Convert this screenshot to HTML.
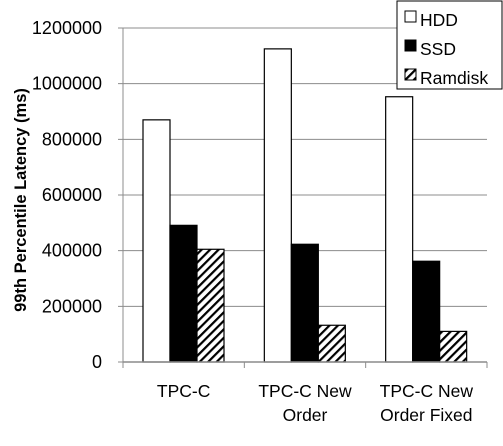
<!DOCTYPE html>
<html><head><meta charset="utf-8"><style>
body{margin:0;background:#fff;}
svg text{font-family:"Liberation Sans",sans-serif;}
</style></head><body>
<svg id="chart" width="503" height="441">
<defs><pattern id="hatch" patternUnits="userSpaceOnUse" width="6" height="6" patternTransform="rotate(45)">
<rect width="6" height="6" fill="#fff"/><rect width="2.2" height="6" fill="#000"/></pattern></defs>
<g id="grid"></g><g id="bars"></g><g id="axes"></g>
<text transform="translate(26,200) rotate(-90)" text-anchor="middle" font-size="16.5" font-weight="bold">99th Percentile Latency (ms)</text>
<g>
<rect x="397" y="1" width="105" height="88" fill="#fff" stroke="#000" stroke-width="1"/>
<g><rect x="405" y="11" width="11" height="11" fill="#fff" stroke="#000"/><text x="420" y="26" font-size="17.5">HDD</text></g>
<g><rect x="405" y="40" width="11" height="11" fill="#000" stroke="#000"/><text x="420" y="55" font-size="17.5">SSD</text></g>
<g><rect x="405" y="69" width="11" height="11" fill="url(#hatch)" stroke="#000"/><text x="420" y="84" font-size="17.5">Ramdisk</text></g>
</g>
</svg>
<script>
const categories=[["TPC-C"],["TPC-C New","Order"],["TPC-C New","Order Fixed"]];
const hdd=[870000,1125000,953000];
const ssd=[491000,423000,362000];
const ramdisk=[405000,132000,110000];
const yTicks=[0,200000,400000,600000,800000,1000000,1200000];
const NS="http://www.w3.org/2000/svg";
const L=123,R=487,B=362,T=28,MAX=1200000;
const y=v=>B-(v/MAX)*(B-T);
const gw=(R-L)/categories.length;
const x=i=>L+i*gw;
function mk(tag,attrs,parent){const e=document.createElementNS(NS,tag);for(const k in attrs)e.setAttribute(k,attrs[k]);document.getElementById(parent).appendChild(e);return e;}
yTicks.forEach(v=>{
 const ln=mk('line',{x1:L-5,x2:R,y1:y(v),y2:y(v),stroke:'#8c8c8c','stroke-width':1},'grid');
 
 
 const t=mk('text',{x:102,y:y(v)+6,'text-anchor':'end','font-size':18},'axes');
 t.textContent=v;
 
 
});
const series=[[hdd,'#fff','hdd'],[ssd,'#000','ssd'],[ramdisk,'url(#hatch)','ramdisk']];
const bw=27;
categories.forEach((c,i)=>{
 series.forEach((s,j)=>{
  const v=s[0][i];
  const r=mk('rect',{x:x(i)+20+j*bw,y:y(v),width:bw,height:B-y(v),fill:s[1],stroke:'#000','stroke-width':1.2},'bars');
  
  
 });
 c.forEach((line,k)=>{
  const t=mk('text',{x:x(i)+gw/2,y:397+k*24,'text-anchor':'middle','font-size':17.5},'axes');
  t.textContent=line;
  
  
 });
});
const ax=mk('line',{x1:L,x2:L,y1:T,y2:B,stroke:'#8c8c8c'},'axes');


const bx=mk('line',{x1:L,x2:R,y1:B,y2:B,stroke:'#8c8c8c','stroke-width':1.5},'axes');


for(let i=0;i<=categories.length;i++){
 const tk=mk('line',{x1:x(i),x2:x(i),y1:B,y2:B+6,stroke:'#8c8c8c'},'axes');
 
 
}
</script>
</body></html>
